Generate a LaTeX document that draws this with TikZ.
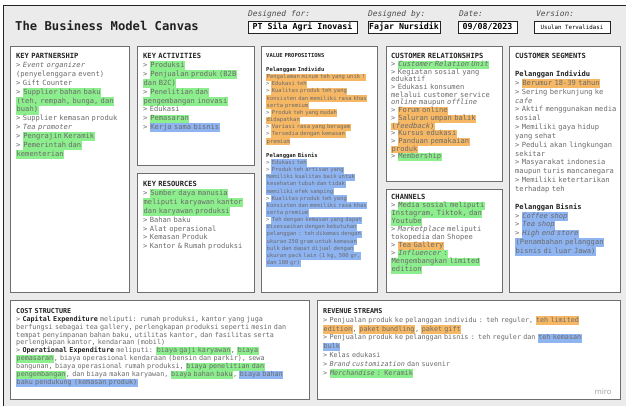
\documentclass[tikz,border=0pt]{standalone}
\usepackage{fontspec}
\setmainfont{DejaVu Sans}
\setsansfont{DejaVu Sans}
\setmonofont{DejaVu Sans Mono}
\definecolor{bgc}{HTML}{EBEBEB}
\definecolor{hlg}{HTML}{8DEE8D}
\definecolor{hlo}{HTML}{F6B865}
\definecolor{hlb}{HTML}{8FB4F2}
\definecolor{txt}{HTML}{6A6A6A}
\definecolor{hdr}{HTML}{222222}
\definecolor{boxline}{HTML}{6E6E6E}
\newcommand\HLx[2]{{\setlength{\fboxsep}{0pt}\colorbox{#1}{\strut\kern0.5pt#2\kern0.5pt}}}
\newcommand\HG[1]{\HLx{hlg}{#1}}
\newcommand\HO[1]{\HLx{hlo}{#1}}
\newcommand\HB[1]{\HLx{hlb}{#1}}
\newcommand\HD[1]{\textbf{\color{hdr}#1}}
\tikzset{
  cbox/.style={draw=boxline, line width=0.7pt, fill=white},
  hbox/.style={draw=hdr, line width=0.6pt, fill=white, inner sep=0pt, minimum height=12pt, text=black, font={\fontsize{8.3}{10}\selectfont\ttfamily\bfseries}},
  hlabel/.style={anchor=west, inner sep=0pt, text=black!70, font={\fontsize{7.9}{9}\selectfont\ttfamily\itshape}},
  txtblk/.style={anchor=north west, inner sep=0pt, text width=330pt, align=left, text=txt},
  fa/.style={font={\fontsize{7.1}{8.85}\selectfont\ttfamily\lineskiplimit=-6pt}},
  fcr/.style={font={\fontsize{7.1}{7.7}\selectfont\ttfamily\lineskiplimit=-6pt}},
  fch/.style={font={\fontsize{7.1}{8.0}\selectfont\ttfamily\lineskiplimit=-6pt}},
  fvp/.style={font={\fontsize{5.5}{7.15}\selectfont\ttfamily\lineskiplimit=-6pt}},
  fcost/.style={font={\fontsize{6.75}{7.85}\selectfont\ttfamily\lineskiplimit=-6pt}},
  frev/.style={font={\fontsize{6.75}{8.8}\selectfont\ttfamily\lineskiplimit=-6pt}}
}
\begin{document}
\begin{tikzpicture}[x=1pt,y=-1pt]
\useasboundingbox (0,0) rectangle (626,406);
\fill[white] (0,0) rectangle (626,406);
\fill[bgc] (3,5) rectangle (626,406);
\draw[hdr, line width=0.8pt] (3,406) -- (3,5) -- (626,5);
% header
\node[anchor=west, inner sep=0pt, text=hdr, font={\fontsize{12.2}{14}\selectfont\ttfamily\bfseries}] (title) at (15,26) {The Business Model Canvas};
\node[hlabel] (lfor) at (248,14) {Designed for:};
\node[hbox, minimum width=109pt] (vfor) at (302.5,27) {PT Sila Agri Inovasi};
\node[hlabel] (lby) at (368,14) {Designed by:};
\node[hbox, minimum width=72pt] (vby) at (404,27) {Fajar Nursidik};
\node[hlabel] (ldate) at (459,14) {Date:};
\node[hbox, minimum width=59pt] (vdate) at (487.5,27) {09/08/2023};
\node[hlabel] (lver) at (536,14) {Version:};
\node[hbox, minimum width=76pt, font={\fontsize{5.8}{7}\selectfont\ttfamily}] (vver) at (572,27) {Usulan Tervalidasi};
% boxes
\draw[cbox] (10,46) rectangle (129,292);
\draw[cbox] (137,46) rectangle (254,165);
\draw[cbox] (137,173) rectangle (254,292);
\draw[cbox] (261,46) rectangle (377,292);
\draw[cbox] (386,46) rectangle (502,181);
\draw[cbox] (386,189) rectangle (502,292);
\draw[cbox] (509,46) rectangle (620,292);
\draw[cbox] (10,300) rectangle (309,399);
\draw[cbox] (317,300) rectangle (620,399);
% key partnership
\node[txtblk, fa] (kp) at (16,52.4) {\strut\HD{KEY PARTNERSHIP}\\
> \textit{Event organizer}\\
(penyelenggara event)\\
> Gift Counter\\
> \HG{Supplier bahan baku}\\
\HG{(teh, rempah, bunga, dan}\\
\HG{buah)}\\
> Supplier kemasan produk\\
> \textit{Tea promoter}\\
> \HG{Pengrajin Keramik}\\
> \HG{Pemerintah dan}\\
\HG{kementerian}};
% key activities
\node[txtblk, fa] (ka) at (143,52.4) {\strut\HD{KEY ACTIVITIES}\\
> \HG{Produksi}\\
> \HG{Penjualan produk (B2B}\\
\HG{dan B2C)}\\
> \HG{Penelitian dan}\\
\HG{pengembangan inovasi}\\
> Edukasi\\
> \HG{Pemasaran}\\
> \HB{Kerja sama bisnis}};
% key resources
\node[txtblk, fa] (kr) at (143,180.4) {\strut\HD{KEY RESOURCES}\\
> \HG{Sumber daya manusia}\\
\HG{meliputi karyawan kantor}\\
\HG{dan karyawan produksi}\\
> Bahan baku\\
> Alat operasional\\
> Kemasan Produk\\
> Kantor \& Rumah produksi};
% value propositions
\node[txtblk, fvp] (vp) at (266,52.0) {\strut\HD{VALUE PROPOSITIONS}\\
\strut\\
\HD{Pelanggan Individu}\\
\HO{Pengalaman minum teh yang unik !}\\
> \HO{Edukasi teh}\\
> \HO{Kualitas produk teh yang}\\
\HO{konsisten dan memiliki rasa khas}\\
\HO{serta premium}\\
> \HO{Produk teh yang mudah}\\
\HO{didapatkan}\\
> \HO{Variasi rasa yang beragam}\\
> \HO{Tersedia dengan kemasan}\\
\HO{premium}\\
\strut\\
\HD{Pelanggan Bisnis}\\
> \HB{Edukasi teh}\\
> \HB{Produk teh artisan yang}\\
\HB{memiliki kualitas baik untuk}\\
\HB{kesehatan tubuh dan tidak}\\
\HB{memiliki efek samping}\\
> \HB{Kualitas produk teh yang}\\
\HB{konsisten dan memiliki rasa khas}\\
\HB{serta premium}\\
> \HB{Teh dengan kemasan yang dapat}\\
\HB{disesuaikan dengan kebutuhan}\\
\HB{pelanggan : teh dikemas dengan}\\
\HB{ukuran 250 gram untuk kemasan}\\
\HB{bulk dan dapat dijual dengan}\\
\HB{ukuran pack lain (1 kg, 500 gr,}\\
\HB{dan 100 gr)}};
% customer relationships
\node[txtblk, fcr] (cr) at (391,53.2) {\strut\HD{CUSTOMER RELATIONSHIPS}\\
> \HG{\textit{Customer Relation Unit}}\\
> Kegiatan sosial yang\\
edukatif\\
> Edukasi konsumen\\
melalui customer service\\
\textit{online} maupun \textit{offline}\\
> \HO{Forum online}\\
> \HO{Saluran umpan balik}\\
\HO{(\textit{feedback})}\\
> \HO{Kursus edukasi}\\
> \HO{Panduan pemakaian}\\
\HO{produk}\\
> \HG{Membership}};
% channels
\node[txtblk, fch] (ch) at (391,194.0) {\strut\HD{CHANNELS}\\
> \HG{Media sosial meliputi}\\
\HG{Instagram, Tiktok, dan}\\
\HG{Youtube}\\
> \textit{Marketplace} meliputi\\
tokopedia dan Shopee\\
> \HO{Tea Gallery}\\
> \HG{\textit{Influencer} :}\\
\HG{Mengembangkan limited}\\
\HG{edition}};
% customer segments
\node[txtblk, fa] (cs) at (515,52.4) {\strut\HD{CUSTOMER SEGMENTS}\\
\strut\\
\HD{Pelanggan Individu}\\
> \HO{Berumur 18-39 tahun}\\
> Sering berkunjung ke\\
\textit{cafe}\\
> Aktif menggunakan media\\
sosial\\
> Memiliki gaya hidup\\
yang sehat\\
> Peduli akan lingkungan\\
sekitar\\
> Masyarakat indonesia\\
maupun turis mancanegara\\
> Memiliki ketertarikan\\
terhadap teh\\
\strut\\
\HD{Pelanggan Bisnis}\\
> \HB{\textit{Coffee shop}}\\
> \HB{\textit{Tea shop}}\\
> \HB{\textit{High end store}}\\
\HB{(Penambahan pelanggan}\\
\HB{bisnis di luar Jawa)}};
% cost structure
\node[txtblk, fcost] (cost) at (16,307.9) {\strut\HD{COST STRUCTURE}\\
> \HD{Capital Expenditure} meliputi: rumah produksi, kantor yang juga\\
berfungsi sebagai tea gallery, perlengkapan produksi seperti mesin dan\\
tempat penyimpanan bahan baku, utilitas kantor, dan fasilitas serta\\
perlengkapan kantor, kendaraan (mobil)\\
> \HD{Operational Expenditure} meliputi: \HG{biaya gaji karyawan}, \HG{biaya}\\
\HG{pemasaran}, biaya operasional kendaraan (bensin dan parkir), sewa\\
bangunan, biaya operasional rumah produksi, \HG{biaya penelitian dan}\\
\HG{pengembangan}, dan biaya makan karyawan, \HG{biaya bahan baku}, \HB{biaya bahan}\\
\HB{baku pendukung (kemasan produk)}};
% revenue streams
\node[txtblk, frev] (rev) at (323,307.2) {\strut\HD{REVENUE STREAMS}\\
> Penjualan produk ke pelanggan individu : teh reguler, \HO{teh limited}\\
\HO{edition}, \HO{paket bundling}, \HO{paket gift}\\
> Penjualan produk ke pelanggan bisnis : teh reguler dan \HB{teh kemasan}\\
\HB{bulk}\\
> Kelas edukasi\\
> \textit{Brand customization} dan suvenir\\
> \HG{\textit{Merchandise} : Keramik}};
\node[anchor=center, inner sep=0pt, text=black!35, font={\fontsize{7.5}{9}\selectfont\sffamily}] (miro) at (603,392) {miro};
\end{tikzpicture}
\end{document}
